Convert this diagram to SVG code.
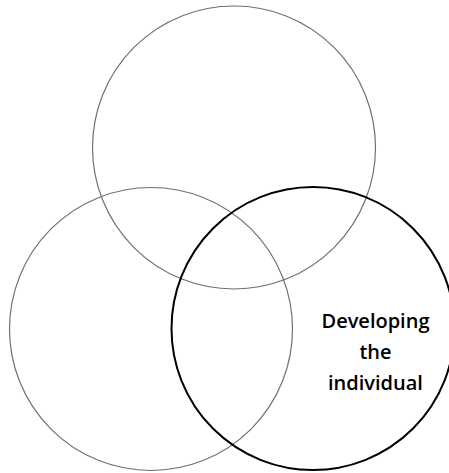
<svg xmlns="http://www.w3.org/2000/svg" width="449" height="473" viewBox="0 0 449 473">
<style>
.c{fill:none;stroke:#707070;stroke-width:1.2}
.k{fill:none;stroke:#000;stroke-width:2}
.t{font-family:"Open Sans","Liberation Sans",sans-serif;font-weight:600;font-size:20px;fill:#000;text-anchor:middle}
</style>
<rect width="449" height="473" fill="#fff"/>
<g id="top"><circle class="c" cx="234" cy="147.5" r="141.5"/></g>
<g id="left"><circle class="c" cx="151" cy="329" r="141.5"/></g>
<g id="right"><circle class="k" cx="313" cy="328.5" r="141.5"/>
<text class="t" x="375.5" y="328">Developing</text>
<text class="t" x="375.5" y="359">the</text>
<text class="t" x="375.5" y="390">individual</text>
</g>
<g id="connectors"/>
</svg>
